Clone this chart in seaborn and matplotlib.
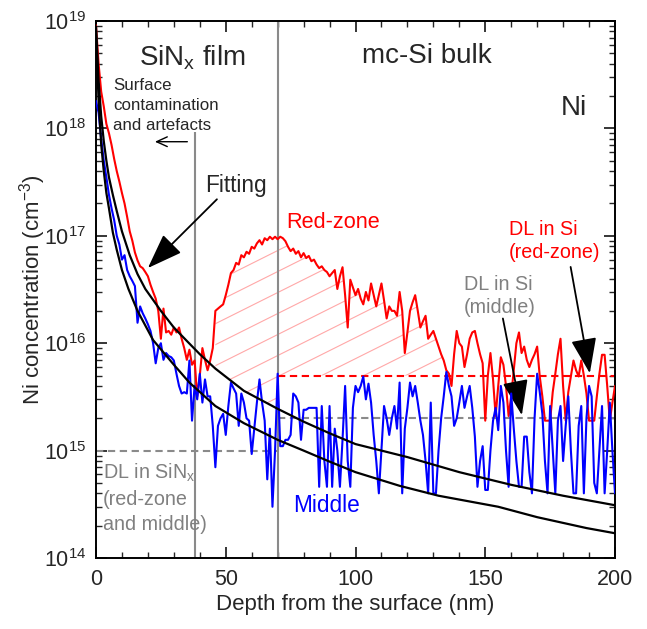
import numpy as np
import pandas as pd
import matplotlib
matplotlib.use("Agg")
import matplotlib.pyplot as plt
import seaborn as sns
from matplotlib.ticker import MultipleLocator, LogLocator, NullFormatter
from matplotlib.collections import LineCollection
from matplotlib.path import Path

# ---------------- data (concentrations in units of 1e15 cm^-3) ----------------
depth_nm = np.arange(0, 201)  # SIMS depth grid, 1 nm step

red_zone_e15 = [
    9100, 4000, 2200, 1600, 1100, 900, 700, 520, 400, 320,
    250, 200, 150, 110, 90, 70, 59, 52, 50, 46,
    42, 35, 30, 26, 20, 11, 21, 12.6, 13, 12,
    14, 12.6, 14, 11, 9, 7, 8.7, 6.3, 6.9, 3.2,
    5, 9, 7, 5.6, 6.9, 9, 20, 21, 22, 23,
    28, 35, 45, 48, 56, 54, 66, 63, 71, 68,
    79, 76, 85, 91, 83, 95, 91, 98, 93, 98,
    93, 98, 95, 89, 79, 72, 76, 68, 72, 63,
    69, 62, 65, 58, 60, 54, 50, 52, 48, 46,
    42, 45, 48, 32, 42, 51, 28, 14, 39, 33,
    28, 32, 26, 23, 30, 25, 36, 28, 22, 28,
    36, 25, 17, 22, 20, 20, 18, 30, 20, 8.1,
    12.6, 20, 24, 28, 20, 14, 16, 18, 11, 12,
    13, 11, 9.3, 7.9, 6.9, 5.6, 5.2, 4, 7.9, 13,
    10, 9.3, 6, 7.9, 11, 12.6, 13, 10, 7.9, 6.5,
    1.9, 5, 8.1, 4.6, 2.1, 4, 7.4, 6.3, 4, 2.1,
    3.2, 5.6, 10, 12.6, 8.1, 9.3, 7, 6, 7, 7.9,
    9.3, 4.9, 3.2, 1.9, 1.9, 1.9, 3.5, 5.2, 7.9, 11,
    4, 1.9, 3.5, 4.9, 6.9, 5.6, 4.9, 6.9, 5, 3.4,
    1.9, 1.9, 1.9, 3.2, 5.2, 7.8, 7.8, 4, 1.9, 2.8,
    4,
]

middle_e15 = [
    1800, 1400, 800, 500, 350, 240, 180, 140, 100, 83,
    60, 66, 48, 42, 38, 34, 15.5, 22, 19, 17,
    15, 13, 10, 6.5, 9, 10, 7, 8.1, 7.6, 7.4,
    6.9, 5.2, 4, 3.4, 3.5, 3.4, 6.9, 1.9, 4, 3,
    5.2, 2.8, 4.6, 3.2, 3.2, 1.7, 0.7, 1.7, 2, 2.2,
    1.4, 2.6, 4.3, 3.8, 3.4, 1.7, 3.4, 2.8, 2, 1.9,
    0.93, 1.6, 2.8, 4.6, 2.8, 1.9, 0.54, 1.6, 0.3, 1.0,
    5.2, 1.1, 1.1, 1.26, 1.26, 1.4, 3.4, 3.2, 2.8, 1.26,
    2.4, 2.4, 2.5, 2.5, 2.5, 2.5, 0.46, 2.6, 0.8, 0.46,
    2.6, 0.46, 1.6, 1.0, 0.46, 1.26, 4, 0.8, 0.46, 2.5,
    4, 3.5, 4, 4.9, 3, 4.2, 2.8, 1.4, 0.8, 0.4,
    1.0, 2.6, 2, 1.4, 2, 2.6, 1.6, 4.3, 0.4, 1.6,
    2.5, 4.3, 3.2, 4, 2.8, 1.9, 1.4, 0.8, 0.4, 2.8,
    0.4, 0.4, 1.0, 2, 3.2, 5.4, 4, 3.2, 1.7, 2,
    2.8, 4, 2.5, 3.2, 4, 2.5, 1.35, 0.46, 0.8, 1.1,
    0.43, 0.43, 1.0, 1.9, 2.5, 1.55, 4, 2.8, 1.0, 0.46,
    3.4, 1.6, 0.8, 0.46, 0.46, 1.35, 1.35, 0.63, 0.4, 2,
    5.2, 3.5, 2.2, 0.8, 0.4, 2.6, 1.0, 0.4, 1.9, 2.6,
    0.8, 1.7, 3.2, 1.0, 0.4, 0.4, 1.7, 2.6, 0.4, 2,
    4, 3.2, 0.5, 0.4, 1.0, 2.6, 0.4, 1.0, 2.8, 1.0,
    0.4,
]

# diffusion-profile fits
fit_red_depth = [0, 1, 2, 3, 4, 5, 6.5, 8, 10, 13, 16, 19, 25, 30, 35, 40, 46,
                 57, 70, 80, 90, 100, 120, 140, 160, 180, 200]
fit_red_e15 = [8900, 2800, 1300, 760, 500, 350, 240, 170, 110, 66, 44, 32, 20,
               14, 10.5, 7.9, 5.8, 3.6, 2.45, 1.86, 1.45, 1.15, 0.87, 0.63,
               0.48, 0.38, 0.31]
fit_middle_depth = [0, 1, 2, 3, 4, 5, 6.5, 8, 10, 12.5, 16, 22, 30, 36, 46, 57,
                    70, 80, 90, 100, 117, 132, 155, 170, 189, 200]
fit_middle_e15 = [7900, 1800, 710, 400, 250, 180, 107, 74, 48, 32, 20, 10.7,
                  6.3, 4.3, 2.6, 1.8, 1.26, 1.0, 0.79, 0.63, 0.47, 0.38, 0.30,
                  0.24, 0.19, 0.17]

# detection limits (cm^-3) and layer boundaries (nm)
dl_sinx = 1e15
dl_si_red = 5e15
dl_si_middle = 2e15
artefact_edge_nm = 38
interface_nm = 70

E15 = 1e15
df = pd.DataFrame({
    "depth": depth_nm,
    "red": np.array(red_zone_e15) * E15,
    "middle": np.array(middle_e15) * E15,
})
fit_red = pd.DataFrame({"depth": fit_red_depth, "c": np.array(fit_red_e15) * E15})
fit_mid = pd.DataFrame({"depth": fit_middle_depth, "c": np.array(fit_middle_e15) * E15})

# ---------------- style ----------------
sns.set_style("ticks")
plt.rcParams["font.family"] = ["Liberation Sans", "DejaVu Sans"]
plt.rcParams["mathtext.fontset"] = "custom"
plt.rcParams["mathtext.rm"] = "Liberation Sans"
plt.rcParams["mathtext.it"] = "Liberation Sans:italic"
plt.rcParams["mathtext.bf"] = "Liberation Sans:bold"
plt.rcParams["mathtext.default"] = "regular"

RED = "#ff0000"
BLUE = "#0000ff"
GREY = "#8a8a8a"
GREY_TXT = "#808080"

fig = plt.figure(figsize=(6.47, 6.29), dpi=100)
ax = fig.add_axes([96 / 647, 71 / 629, 519 / 647, 537 / 629])
ax.set_yscale("log")
ax.set_xlim(0, 200)
ax.set_ylim(1e14, 1e19)

# hatched enrichment zone between the red-zone profile and the fit / DL
fit_on_grid = 10 ** np.interp(df["depth"], fit_red["depth"], np.log10(fit_red["c"]))
boundary = np.where(df["depth"] < interface_nm, fit_on_grid, dl_si_red)
zone = (df["depth"] >= 46) & (df["depth"] <= 136) & (df["red"] > boundary)
poly = ax.fill_between(df["depth"], df["red"], boundary, where=zone,
                       facecolor="none", edgecolor="none", zorder=1)
clip = Path.make_compound_path(*poly.get_paths())
slope = 0.5 * 519 / 537
offsets = np.arange(-1.2, 1.2, 21 / 537)
segs = [[(0, c), (1, c + slope)] for c in offsets]
hatch = LineCollection(segs, colors="#ffa8a8", linewidths=0.8,
                       transform=ax.transAxes, zorder=1)
ax.add_collection(hatch)
hatch.set_clip_path(clip, ax.transData)

# layer boundaries
ax.vlines(artefact_edge_nm, 1e14, 10 ** 17.97, color=GREY, lw=1.5, zorder=2)
ax.axvline(interface_nm, color=GREY, lw=1.5, zorder=2)

# detection limits
ax.hlines(dl_sinx, 0, interface_nm, color=GREY, lw=1.5, linestyles=(0, (3.5, 2.2)), zorder=2)
ax.hlines(dl_si_middle, interface_nm, 200, color=GREY, lw=1.5, linestyles=(0, (3.5, 2.2)), zorder=2)
ax.hlines(dl_si_red, interface_nm, 200, color=RED, lw=1.5, linestyles=(0, (3.5, 2.2)), zorder=2)

# profiles
sns.lineplot(data=df, x="depth", y="red", color=RED, lw=1.5, ax=ax, zorder=3)
sns.lineplot(data=df, x="depth", y="middle", color=BLUE, lw=1.5, ax=ax, zorder=4)
sns.lineplot(data=fit_red, x="depth", y="c", color="black", lw=1.6, ax=ax, zorder=5)
sns.lineplot(data=fit_mid, x="depth", y="c", color="black", lw=1.6, ax=ax, zorder=5)

# ---------------- axes ----------------
ax.xaxis.set_major_locator(MultipleLocator(50))
ax.xaxis.set_minor_locator(MultipleLocator(10))
ax.yaxis.set_major_locator(LogLocator(base=10, numticks=10))
ax.yaxis.set_minor_locator(LogLocator(base=10, subs=np.arange(2, 10), numticks=100))
ax.yaxis.set_minor_formatter(NullFormatter())
ax.tick_params(which="both", direction="in", top=True, right=True, labelsize=15.5)
ax.tick_params(which="major", length=8, width=1.3)
ax.tick_params(which="minor", length=4.5, width=1.0)
ax.tick_params(axis="y", pad=7)
ax.tick_params(axis="x", pad=8)
for s in ax.spines.values():
    s.set_linewidth(1.4)
    s.set_color("black")

ax.set_xlabel("Depth from the surface (nm)", fontsize=16, labelpad=3)
ax.set_ylabel("Ni concentration (cm$^{-3}$)", fontsize=16, labelpad=-3)

# ---------------- annotations ----------------
# (multi-line texts are anchored on the baseline of their last line)
ax.text(37, 10 ** 18.59, "SiN$_x$ film", fontsize=20, ha="center", va="baseline")
ax.text(127.4, 10 ** 18.61, "mc-Si bulk", fontsize=20, ha="center", va="baseline")
ax.text(184.2, 10 ** 18.125, "Ni", fontsize=20, ha="center", va="baseline")
ax.text(6.6, 10 ** 17.985, "Surface\ncontamination\nand artefacts", fontsize=12.2,
        ha="left", va="baseline", linespacing=1.4)
ax.annotate("", xy=(22.7, 10 ** 17.876), xytext=(35.2, 10 ** 17.876),
            arrowprops=dict(arrowstyle="->,head_length=0.55,head_width=0.25",
                            mutation_scale=14, lw=1.0, color="black",
                            shrinkA=0, shrinkB=0))

ax.text(42, 10 ** 17.41, "Fitting", fontsize=16.3, ha="left", va="baseline")
big_head = "-|>,head_length=1.1,head_width=0.4"
ax.annotate("", xy=(20, 10 ** 16.70), xytext=(46.6, 10 ** 17.34),
            arrowprops=dict(arrowstyle=big_head, mutation_scale=20, lw=1.3,
                            color="black", shrinkA=0, shrinkB=0))

ax.text(73.2, 10 ** 17.07, "Red-zone", fontsize=15.6, color=RED, ha="left", va="baseline")
ax.text(75.8, 10 ** 14.43, "Middle", fontsize=16.3, color=BLUE, ha="left", va="baseline")

ax.text(159.1, 10 ** 16.793, "DL in Si\n(red-zone)", fontsize=14.2, color=RED,
        ha="left", va="baseline", linespacing=1.3)
ax.annotate("", xy=(190.3, 10 ** 15.72), xytext=(182.9, 10 ** 16.71),
            arrowprops=dict(arrowstyle=big_head, mutation_scale=20, lw=1.3,
                            color="black", shrinkA=0, shrinkB=0))

ax.text(141.9, 10 ** 16.281, "DL in Si\n(middle)", fontsize=14.2, color=GREY_TXT,
        ha="left", va="baseline", linespacing=1.3)
ax.annotate("", xy=(164.1, 10 ** 15.33), xytext=(156.8, 10 ** 16.23),
            arrowprops=dict(arrowstyle=big_head, mutation_scale=20, lw=1.3,
                            color="black", shrinkA=0, shrinkB=0))

ax.text(2.6, 10 ** 14.26, "DL in SiN$_x$\n(red-zone\nand middle)", fontsize=14.2,
        color=GREY_TXT, ha="left", va="baseline", linespacing=1.4)

fig.savefig("out.png", dpi=100)
